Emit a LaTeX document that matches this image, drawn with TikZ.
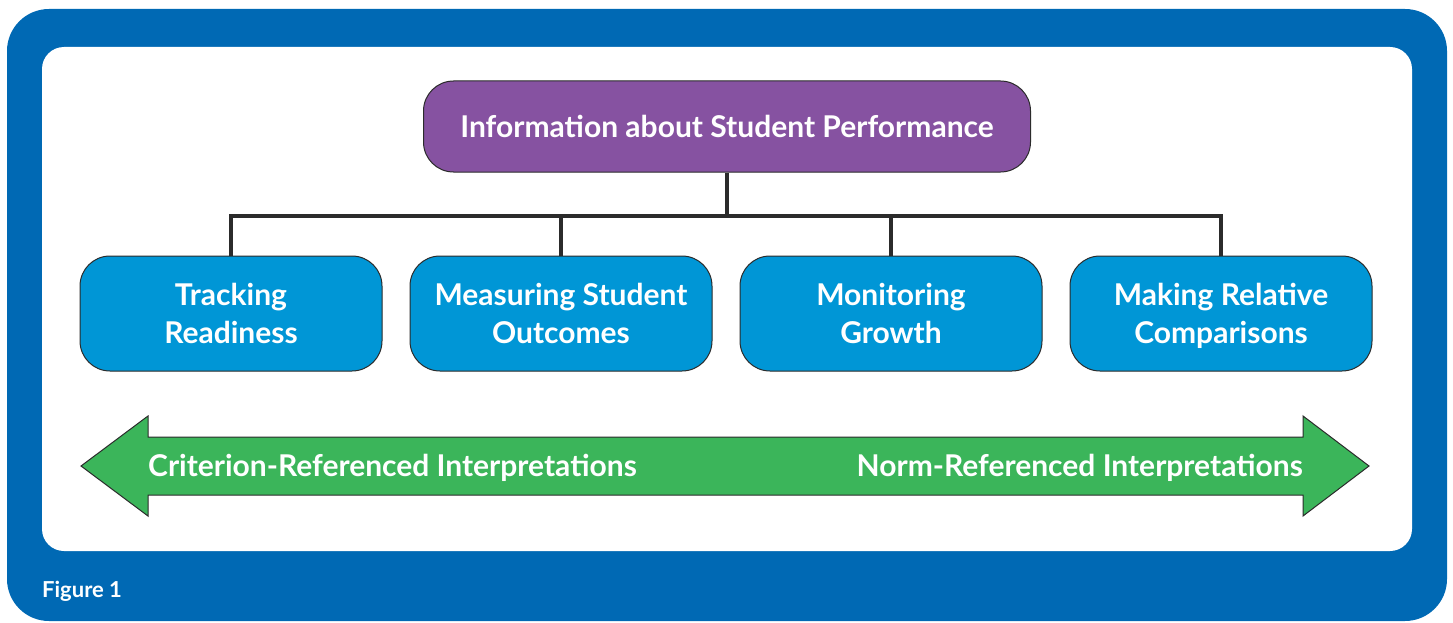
\documentclass[tikz,border=0pt]{standalone}
\usepackage{fontspec}
\setmainfont{Lato}
\definecolor{frameblue}{HTML}{0069B4}
\definecolor{boxblue}{HTML}{0096D6}
\definecolor{toppurple}{HTML}{8652A1}
\definecolor{arrowgreen}{HTML}{3BB55A}
\definecolor{edge}{HTML}{2B2B2B}
\newcommand\topstrutx{\rule{0pt}{33.6pt}}
\tikzset{
  catbox/.style={draw=edge, line width=1pt, fill=boxblue, rounded corners=30pt,
    minimum width=302pt, minimum height=115pt, text=white, align=center,
    font=\fontsize{30}{38}\selectfont\bfseries, inner sep=0pt},
  topbox/.style={draw=edge, line width=1pt, fill=toppurple, rounded corners=30pt,
    minimum width=607pt, minimum height=91pt, text=white,
    font=\fontsize{30}{36}\selectfont\bfseries, inner sep=0pt},
  conn/.style={draw=edge, line width=4pt, line join=miter},
  arrowlabel/.style={text=white, font=\fontsize{30}{36}\selectfont\bfseries, inner sep=0pt},
}
\begin{document}
\begin{tikzpicture}[x=1pt,y=-1pt]
\useasboundingbox (0,0) rectangle (1453,623);
% frame
\fill[frameblue, rounded corners=42pt] (7,9) rectangle (1447,621);
\fill[white, rounded corners=22pt] (42,47) rectangle (1412,551);
\node[anchor=base west, text=white, font=\fontsize{22}{24}\selectfont\bfseries, inner sep=0pt] (fig) at (42,597) {Figure 1};
% top node
\node[topbox] (top) at (727,126.5) {Information about Student Performance};
% category nodes
\node[catbox] (b1) at (231,313.5) {\topstrutx Tracking\strut\\Readiness\strut};
\node[catbox] (b2) at (561,313.5) {\topstrutx Measuring Student\strut\\Outcomes\strut};
\node[catbox] (b3) at (891,313.5) {\topstrutx Monitoring\strut\\Growth\strut};
\node[catbox] (b4) at (1221,313.5) {\topstrutx Making Relative\strut\\Comparisons\strut};
% connectors
\coordinate (bus) at (727,216);
\draw[conn] (top.south) -- (bus);
\draw[conn] (b1.north) -- (b1.north |- bus) -- (b4.north |- bus) -- (b4.north);
\draw[conn] (b2.north) -- (b2.north |- bus);
\draw[conn] (b3.north) -- (b3.north |- bus);
% double arrow
\draw[draw=edge, line width=1pt, fill=arrowgreen, line join=miter]
  (81,466) -- (148,416) -- (148,437) -- (1303,437) -- (1303,416) -- (1369,466)
  -- (1303,516) -- (1303,495) -- (148,495) -- (148,516) -- cycle;
\node[arrowlabel, anchor=base west] (crit) at (148,476) {Criterion-Referenced Interpretations};
\node[arrowlabel, anchor=base east] (norm) at (1303,476) {Norm-Referenced Interpretations};
\end{tikzpicture}
\end{document}
